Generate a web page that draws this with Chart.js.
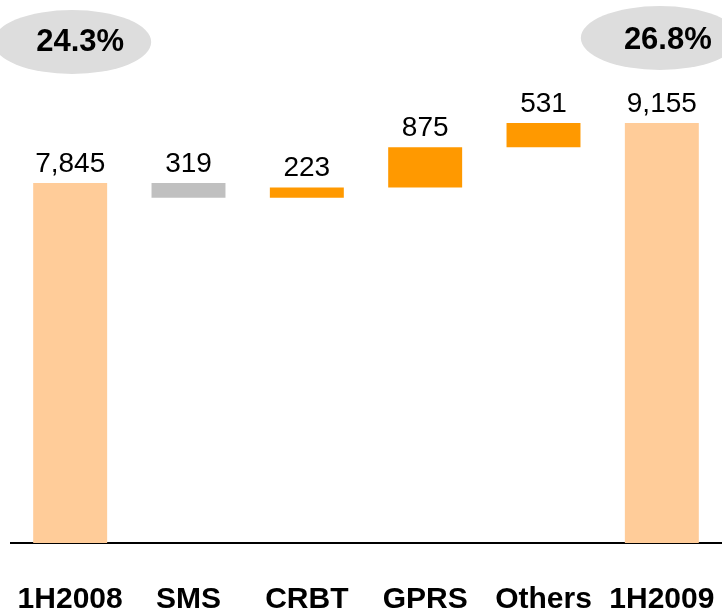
<!DOCTYPE html>
<html lang="en">
<head>
  <meta charset="UTF-8">
  <title>Revenue bridge 1H2008 - 1H2009</title>
  <script src="https://cdn.jsdelivr.net/npm/chart.js"></script>
  <style>
    html, body { margin: 0; padding: 0; background: #fff; overflow: hidden; }
    canvas { display: block; }
  </style>
</head>
<body>
  <canvas id="bridge" width="722" height="611"></canvas>

  <script>
    // data
    const categories = ['1H2008', 'SMS', 'CRBT', 'GPRS', 'Others', '1H2009'];
    const startValue = 7845;
    const changes = [-319, 223, 875, 531];   // SMS is a drop, the rest add up
    const endValue = 9155;
    const valueLabels = ['7,845', '319', '223', '875', '531', '9,155'];
    const marginLabels = ['24.3%', '26.8%'];

    // floating bars: [from, to]
    const bars = [[0, startValue]];
    let running = startValue;
    changes.forEach(c => {
      bars.push([running, running + c]);
      running += c;
    });
    bars.push([0, endValue]);

    const colors = bars.map((b, i) => {
      if (i === 0 || i === bars.length - 1) return '#FFCC99';
      return changes[i - 1] < 0 ? '#C0C0C0' : '#FF9900';
    });

    // labels above bars + the two grey bubbles
    const overlay = {
      id: 'overlay',
      afterDatasetsDraw(chart) {
        const ctx = chart.ctx;
        const meta = chart.getDatasetMeta(0);
        ctx.save();
        ctx.fillStyle = '#000';
        ctx.textAlign = 'center';
        ctx.textBaseline = 'alphabetic';
        ctx.font = '28px "Liberation Sans", Arial, sans-serif';
        meta.data.forEach((bar, i) => {
          const top = Math.min(bar.y, bar.base);
          ctx.fillText(valueLabels[i], bar.x, top - 11);
        });

        // bubbles
        const first = meta.data[0].x, last = meta.data[meta.data.length - 1].x;
        const bubbles = [
          { cx: first + 2, cy: 42, tx: first + 10, ty: 42 },
          { cx: last - 2, cy: 38, tx: last + 6, ty: 40 }
        ];
        bubbles.forEach((b, i) => {
          ctx.fillStyle = '#DDDDDD';
          ctx.beginPath();
          ctx.ellipse(b.cx, b.cy, 79, 32, 0, 0, Math.PI * 2);
          ctx.fill();
          ctx.fillStyle = '#000';
          ctx.font = 'bold 31px "Liberation Sans", Arial, sans-serif';
          ctx.textBaseline = 'middle';
          ctx.fillText(marginLabels[i], b.tx, b.ty);
        });
        ctx.restore();
      }
    };

    new Chart(document.getElementById('bridge'), {
      type: 'bar',
      data: {
        labels: categories,
        datasets: [{
          data: bars,
          backgroundColor: colors,
          borderWidth: 0,
          categoryPercentage: 1,
          barPercentage: 0.625
        }]
      },
      options: {
        responsive: false,
        animation: false,
        layout: { padding: { left: 11, right: 1, top: 0, bottom: 0 } },
        plugins: {
          legend: { display: false },
          tooltip: { enabled: false }
        },
        scales: {
          x: {
            grid: { display: false },
            border: { display: true, color: '#000', width: 2 },
            ticks: {
              color: '#000',
              padding: 31,
              maxRotation: 0,
              autoSkip: false,
              font: { family: '"Liberation Sans", Arial, sans-serif', size: 30, weight: 'bold' }
            },
            afterFit(scale) {
              scale.height = 68;
              scale.paddingLeft = 0;
              scale.paddingRight = 0;
            }
          },
          y: {
            display: false,
            min: 0,
            max: 11833
          }
        }
      },
      plugins: [overlay]
    });
  </script>
</body>
</html>
